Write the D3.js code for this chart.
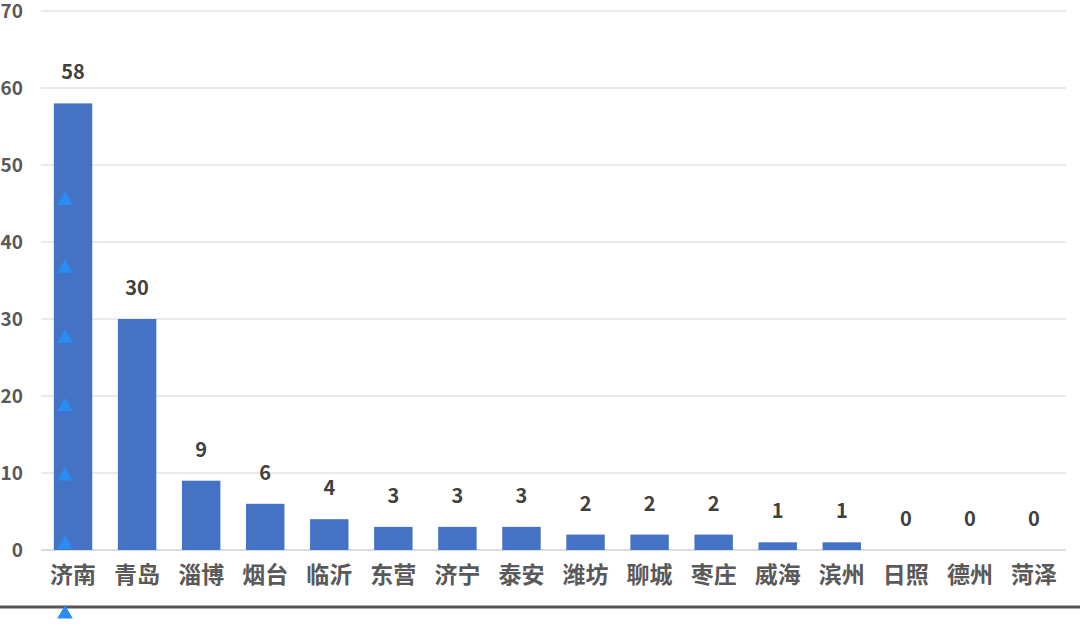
<!DOCTYPE html>
<html><head><meta charset="utf-8">
<script src="https://cdn.jsdelivr.net/npm/d3@7"></script>
<style>body{margin:0;background:#fff;overflow:hidden}</style>
</head><body>
<svg id="c" width="1080" height="630"></svg>
<script>
const categories = ["济南","青岛","淄博","烟台","临沂","东营","济宁","泰安","潍坊","聊城","枣庄","威海","滨州","日照","德州","菏泽"];
const values = [58,30,9,6,4,3,3,3,2,2,2,1,1,0,0,0];
const yTicks = [0,10,20,30,40,50,60,70];
const markerValues = [45.4,36.6,27.5,18.6,9.6,0.7,-8.3];

const svg = d3.select("#c");
const x = d3.scaleBand().domain(categories).range([41,1066]).paddingInner(0.4).paddingOuter(0.2);
const y = d3.scaleLinear().domain([0,70]).range([550,11]);
const font = "'Noto Sans CJK SC','Noto Sans',sans-serif";

// gridlines
svg.append("g").selectAll("line").data(yTicks).join("line")
  .attr("x1",41).attr("x2",1066).attr("y1",d=>y(d)).attr("y2",d=>y(d))
  .attr("stroke",d=>d===0?"#d0d0d0":"#e3e3e3").attr("stroke-width",1.3);

// y axis labels
const yAxis = d3.axisLeft(y).tickValues(yTicks).tickSize(0).tickPadding(0);
const ga = svg.append("g").attr("transform","translate(23,0)").call(yAxis);
ga.select(".domain").remove();
ga.selectAll("text").attr("dy","0.36em").attr("font-family",font).attr("font-size",19).attr("font-weight","bold").attr("fill","#595959");

// bars
svg.append("g").selectAll("rect").data(values).join("rect")
  .attr("x",(d,i)=>x(categories[i])).attr("width",x.bandwidth())
  .attr("y",d=>y(d)).attr("height",d=>y(0)-y(d)).attr("fill","#4472C4");

// value labels
svg.append("g").selectAll("text").data(values).join("text")
  .attr("x",(d,i)=>x(categories[i])+x.bandwidth()/2).attr("y",d=>y(d)-24)
  .attr("text-anchor","middle").attr("font-family",font).attr("font-size",20).attr("font-weight","bold")
  .attr("fill","#404040").text(d=>d);

// category labels
const gx = svg.append("g").attr("transform","translate(0,566)")
  .call(d3.axisBottom(x).tickSize(0).tickPadding(0));
gx.select(".domain").remove();
gx.selectAll("text").attr("dy","0.75em").attr("font-family",font).attr("font-size",23).attr("font-weight","bold").attr("fill","#595959");

// bottom dark rule
svg.append("line").attr("x1",0).attr("x2",1080).attr("y1",607).attr("y2",607).attr("stroke","#555").attr("stroke-width",3);

// triangle markers
const tri = d3.symbol().type(d3.symbolTriangle).size(105);
svg.append("g").selectAll("path").data(markerValues).join("path")
  .attr("d",tri).attr("transform",d=>`translate(${x(categories[0])+x.bandwidth()/2-8},${y(d)})`)
  .attr("fill","#2A8CF0");
</script>
</body></html>
